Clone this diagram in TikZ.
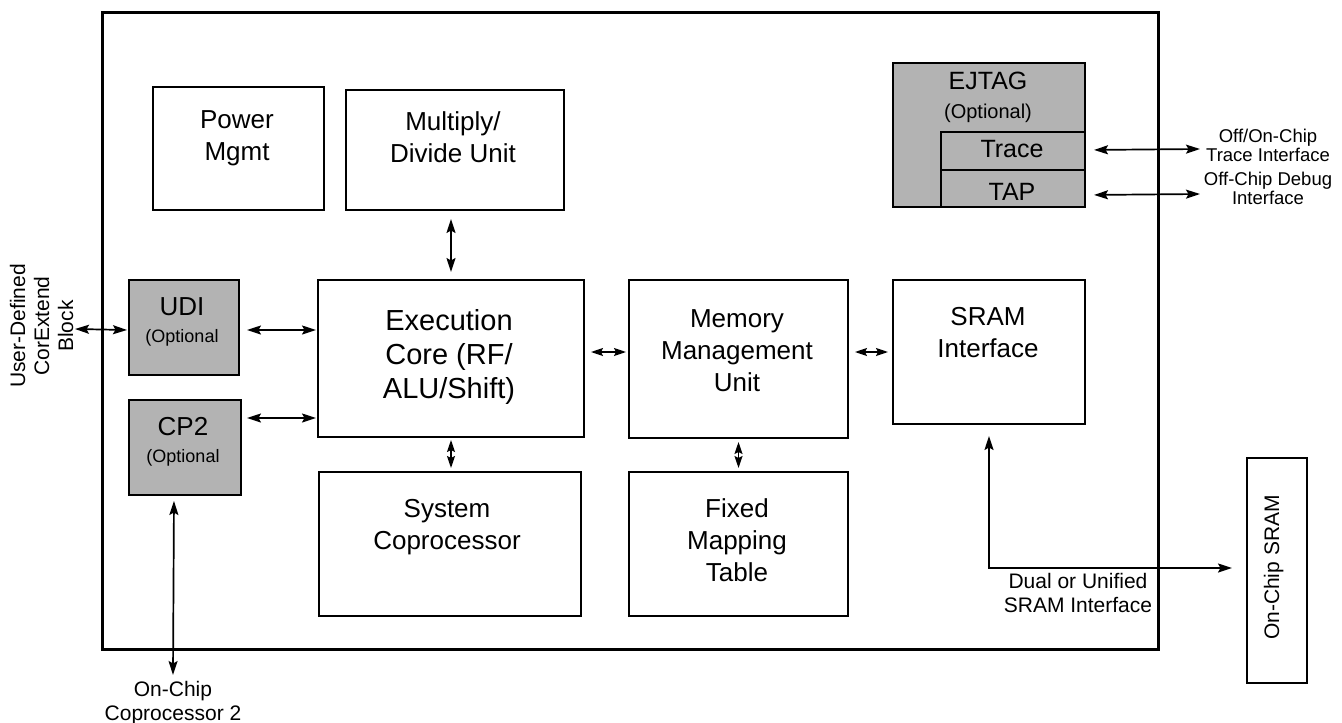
\documentclass[tikz,border=0pt]{standalone}
\usepackage{fontspec}
\setmainfont{Liberation Sans}
\usetikzlibrary{arrows.meta}
\definecolor{optgray}{RGB}{179,179,179}
\begin{document}
\begin{tikzpicture}[x=1pt,y=-1pt,
  >={Stealth[length=14pt,width=9pt,inset=2.5pt]},
  box/.style={draw, line width=2pt, inner sep=0pt, anchor=north west},
  gbox/.style={box, fill=optgray},
  lbl/.style={inner sep=0pt, anchor=base, align=center},
  big/.style={lbl, font=\fontsize{26}{32}\selectfont},
  opt/.style={lbl, font=\fontsize{18}{22}\selectfont},
  mid/.style={lbl, font=\fontsize{21}{24}\selectfont},
  tiny/.style={lbl, font=\fontsize{18.5}{14.3}\selectfont},
  arr/.style={line width=1.7pt, <->},
  sarr/.style={line width=1.7pt, {Stealth[length=12pt,width=8pt,inset=2pt]}-{Stealth[length=12pt,width=8pt,inset=2pt]}}
]
\fill[white] (0,0) rectangle (1342,723);
\useasboundingbox (0,0) rectangle (1342,723);

% chip outline
\node[box, line width=3pt, minimum width=1056pt, minimum height=637pt] (chip) at (101,11) {};

% blocks
\node[box, minimum width=171pt, minimum height=123pt] (pm) at (152,86) {};
\node[box, minimum width=218pt, minimum height=120pt] (mdu) at (345,89) {};
\node[gbox, minimum width=110pt, minimum height=95pt] (udi) at (128,279) {};
\node[gbox, minimum width=112pt, minimum height=95pt] (cp2) at (128,399) {};
\node[box, minimum width=266pt, minimum height=157pt] (exec) at (317,279) {};
\node[box, minimum width=219pt, minimum height=158pt] (mmu) at (628,279) {};
\node[box, minimum width=192pt, minimum height=144pt] (sram) at (892,279) {};
\node[box, minimum width=262pt, minimum height=144pt] (sys) at (318,471) {};
\node[box, minimum width=219pt, minimum height=144pt] (fmt) at (628,471) {};
\node[gbox, minimum width=192pt, minimum height=144pt] (ejtag) at (892,62) {};
\node[gbox, minimum width=144pt, minimum height=38pt] (trace) at (940,131) {};
\node[gbox, minimum width=144pt, minimum height=37pt] (tap) at (940,169) {};
\node[box, minimum width=60pt, minimum height=225pt] (ocsram) at (1246,457) {};

% texts (anchor = baseline of the last line)
\node[big] (pmt) at (237,160) {Power\\Mgmt};
\node[big] (mdut) at (453,162) {Multiply/\\Divide Unit};
\node[lbl, font=\fontsize{29}{34}\selectfont] (exect) at (449,398) {Execution\\Core (RF/\\ALU/Shift)};
\node[big] (mmut) at (737,391) {Memory\\Management\\Unit};
\node[big] (sramt) at (988,357) {SRAM\\Interface};
\node[big] (syst) at (447,549) {System\\Coprocessor};
\node[big] (fmtt) at (737,581) {Fixed\\Mapping\\Table};
\node[big] (udit) at (182,315) {UDI};
\node[opt] (udio) at (182,342) {(Optional};
\node[big] (cp2t) at (183,435) {CP2};
\node[opt] (cp2o) at (183,462) {(Optional};
\node[lbl, font=\fontsize{25}{30}\selectfont] (ejt) at (988,89) {EJTAG};
\node[lbl, font=\fontsize{20}{24}\selectfont] (ejo) at (988,118) {(Optional)};
\node[lbl, font=\fontsize{25}{30}\selectfont] (trt) at (1012,157) {Trace};
\node[lbl, font=\fontsize{25}{30}\selectfont] (tapt) at (1012,200) {TAP};
\node[tiny] (trl) at (1268,161) {Off/On-Chip\\Trace Interface};
\node[tiny] (tapl) at (1268,204) {Off-Chip Debug\\Interface};
\node[mid] (dual) at (1078,612) {Dual or Unified\\SRAM Interface};
\node[mid, rotate=90] (ocst) at (1279,567.5) {On-Chip SRAM};
\node[lbl, font=\fontsize{21}{23.5}\selectfont] (cp2l) at (173,720) {On-Chip\\Coprocessor 2};
\node[mid, rotate=90] (udel) at (73,326) {User-Defined\\CorExtend\\Block};

% free ends
\coordinate (ude) at (75,329);
\coordinate (trc) at (1200,149);
\coordinate (tapc) at (1200,194);
\coordinate (cp2c) at (173,675);

% connectors
\draw[arr, shorten <=8pt, shorten >=7pt] (exec.north |- mdu.south) -- (exec.north);
\draw[arr, shorten <=7pt, shorten >=1pt] ([yshift=-2.5pt]udi.east) -- ([yshift=-2.5pt]udi.east -| exec.west);
\draw[arr, shorten >=1pt] (ude) -- ([yshift=-2.5pt]udi.west);
\draw[arr, shorten <=5pt, shorten >=1pt] ([yshift=29.5pt]cp2.east) -- ([yshift=29.5pt]cp2.east -| exec.west);
\draw[sarr, shorten <=6pt, shorten >=2pt] ([yshift=6.5pt]exec.east) -- ([yshift=6.5pt]exec.east -| mmu.west);
\draw[sarr, shorten <=6pt, shorten >=4pt] ([yshift=7pt]mmu.east) -- ([yshift=7pt]mmu.east -| sram.west);
\draw[sarr, shorten <=2pt, shorten >=3pt] (exec.south) -- (exec.south |- sys.north);
\draw[sarr, shorten <=3pt, shorten >=3pt] (mmu.south) -- (mmu.south |- fmt.north);
\draw[arr, shorten <=11pt, shorten >=14pt] (sram.south) |- ([yshift=2.5pt]ocsram.west);
\draw[arr, shorten <=8pt] ([yshift=1pt]trace.east) -- (trc);
\draw[arr, shorten <=8pt] ([yshift=-6.5pt]tap.east) -- (tapc);
\draw[arr, shorten <=5pt] ([xshift=-11pt]cp2.south) -- (cp2c);
\end{tikzpicture}
\end{document}
